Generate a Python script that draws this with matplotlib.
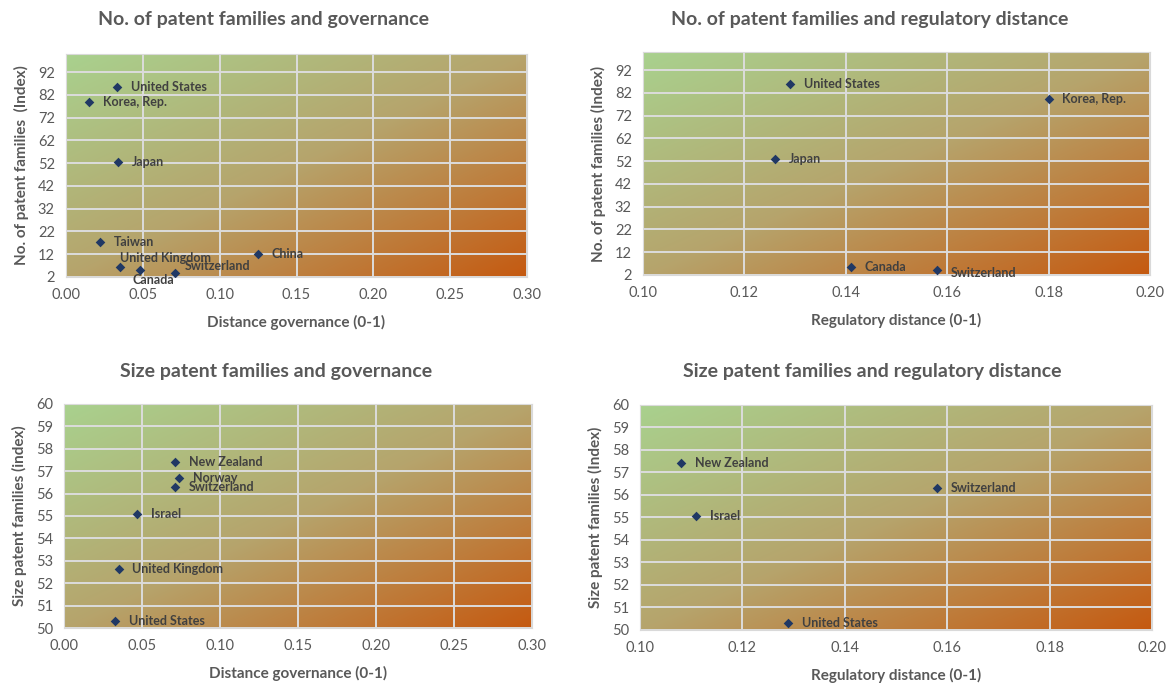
import matplotlib

matplotlib.use("Agg")
import matplotlib.pyplot as plt
import numpy as np
from matplotlib.colors import LinearSegmentedColormap

plt.rcParams["font.family"] = ["Lato", "DejaVu Sans"]

GREY = "#595959"
LABEL = "#404040"
NAVY = "#203864"
GRID = "#dcdcdc"

# --- data -------------------------------------------------------------
# top-left: number of patent families vs governance distance
gov_countries = ["United States", "Korea, Rep.", "Japan", "Taiwan",
                 "United Kingdom", "Canada", "Switzerland", "China"]
gov_dist = [0.033, 0.015, 0.034, 0.022, 0.035, 0.048, 0.071, 0.125]
gov_count = [85.6, 79.1, 52.5, 17.6, 6.2, 4.9, 3.6, 11.9]

# top-right: number of patent families vs regulatory distance
reg_countries = ["United States", "Korea, Rep.", "Japan", "Canada", "Switzerland"]
reg_dist = [0.129, 0.180, 0.126, 0.141, 0.158]
reg_count = [85.8, 79.2, 53.0, 5.4, 4.0]

# bottom-left: size of patent families vs governance distance
sgov_countries = ["New Zealand", "Norway", "Switzerland", "Israel",
                  "United Kingdom", "United States"]
sgov_dist = [0.071, 0.074, 0.071, 0.047, 0.035, 0.033]
sgov_size = [57.41, 56.70, 56.30, 55.07, 52.63, 50.33]

# bottom-right: size of patent families vs regulatory distance
sreg_countries = ["New Zealand", "Switzerland", "Israel", "United States"]
sreg_dist = [0.108, 0.158, 0.111, 0.129]
sreg_size = [57.41, 56.31, 55.05, 50.32]

# label offsets (points) where the default "right of marker" is not used
OFFSETS = {"United Kingdom": (0, 7, "left"), "Canada": (10, -7, "center"),
           "Switzerland": (7, 5, "left")}

CMAP = LinearSegmentedColormap.from_list("gr", ["#a9d18e", "#b6a46c", "#c55a11"])


def gradient(ax):
    n = 200
    u = np.linspace(0, 1, n)
    uu, vv = np.meshgrid(u, u)
    t = (uu + vv) / 2  # top-left green -> bottom-right orange (origin upper)
    ax.imshow(t, cmap=CMAP, extent=(0, 1, 0, 1), transform=ax.transAxes,
              aspect="auto", origin="upper", zorder=0, interpolation="bilinear")


def panel(rect, x, y, names, xlim, xticks, ylim, yticks, xlabel, ylabel,
          title, title_x, title_y, offsets=None):
    ax = fig.add_axes(rect)
    gradient(ax)
    ax.scatter(x, y, marker="D", s=24, color=NAVY, zorder=3, lw=0)
    for xi, yi, nm in zip(x, y, names):
        dx, dy, ha = (offsets or {}).get(nm, (10, 0, "left"))
        ax.annotate(nm, (xi, yi), textcoords="offset points", xytext=(dx, dy),
                    ha=ha, va="center", fontsize=9, fontweight="bold",
                    color=LABEL, zorder=4)
    ax.set_xlim(*xlim)
    ax.set_ylim(*ylim)
    ax.set_xticks(xticks)
    ax.set_xticklabels([f"{v:.2f}" for v in xticks])
    ax.set_yticks(yticks)
    ax.grid(True, color=GRID, lw=1.4, zorder=1)
    ax.set_axisbelow(False)
    for s in ax.spines.values():
        s.set_color("#d9d9d9")
    ax.tick_params(length=0, pad=8, labelsize=10.5, colors=GREY)
    ax.set_xlabel(xlabel, fontsize=11, fontweight="bold", color=GREY, labelpad=9)
    ax.set_ylabel(ylabel, fontsize=11, fontweight="bold", color=GREY, labelpad=6)
    fig.text(title_x, title_y, title, ha="center", va="center", fontsize=14,
             fontweight="bold", color=GREY)
    return ax


W, H = 1169, 684
fig = plt.figure(figsize=(W / 100, H / 100), dpi=100)


def rect(l, r, t, b):
    return [l / W, 1 - b / H, (r - l) / W, (b - t) / H]


panel(rect(66, 527, 54, 277), gov_dist, gov_count, gov_countries,
      (0, 0.30), np.arange(0, 0.31, 0.05), (2, 100), np.arange(2, 93, 10),
      "Distance governance (0-1)", "No. of patent families  (Index)",
      "No. of patent families and governance", 264 / W, 1 - 20 / H, OFFSETS)

panel(rect(643, 1150, 52, 275), reg_dist, reg_count, reg_countries,
      (0.10, 0.20), np.arange(0.10, 0.201, 0.02), (2, 100), np.arange(2, 93, 10),
      "Regulatory distance (0-1)", "No. of patent families (Index)",
      "No. of patent families and regulatory distance", 870 / W, 1 - 20 / H,
      {"Switzerland": (10, -2, "left")})

panel(rect(64, 532, 404, 628), sgov_dist, sgov_size, sgov_countries,
      (0, 0.30), np.arange(0, 0.31, 0.05), (50, 60), np.arange(50, 61, 1),
      "Distance governance (0-1)", "Size patent families (index)",
      "Size patent families and governance", 276 / W, 1 - 371 / H)

panel(rect(640, 1152, 405, 630), sreg_dist, sreg_size, sreg_countries,
      (0.10, 0.20), np.arange(0.10, 0.201, 0.02), (50, 60), np.arange(50, 61, 1),
      "Regulatory distance (0-1)", "Size patent families (Index)",
      "Size patent families and regulatory distance", 872 / W, 1 - 372 / H)

fig.savefig("out.png", dpi=100)
